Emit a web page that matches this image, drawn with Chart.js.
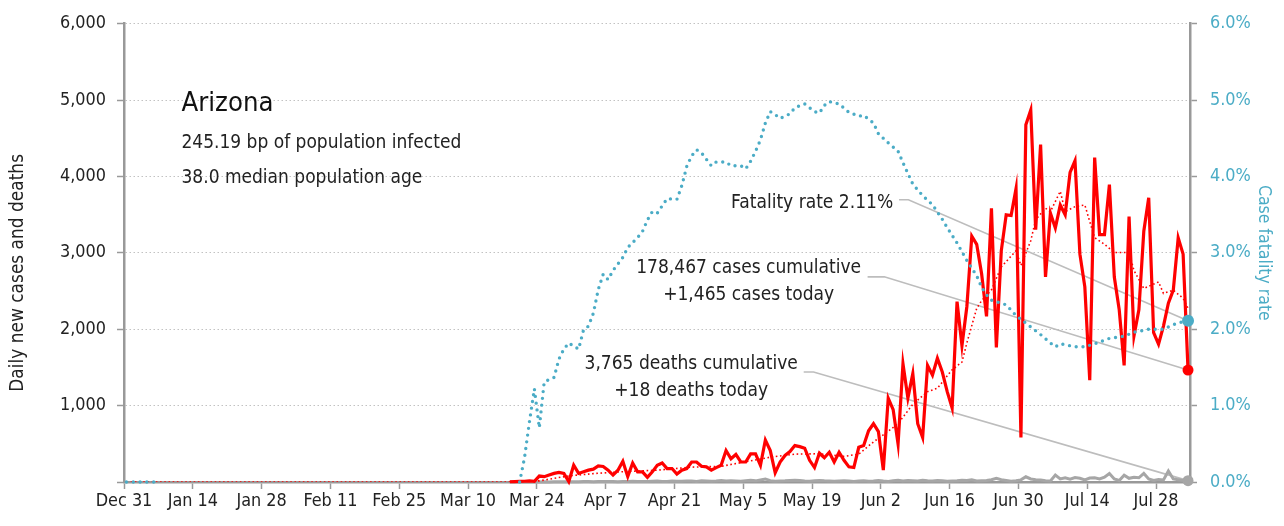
<!DOCTYPE html>
<html>
<head>
<meta charset="utf-8">
<script src="https://cdn.jsdelivr.net/npm/chart.js@4.4.1/dist/chart.umd.min.js"></script>
<style>
html, body { margin: 0; padding: 0; background: #ffffff; }
#wrap { width: 1284px; height: 526px; position: relative; }
</style>
</head>
<body>
<div id="wrap"><canvas id="chart"></canvas></div>
<script>
// ---- tick labels (every 14 days starting Dec 31) ----
const tickLabels = ["Dec 31","Jan 14","Jan 28","Feb 11","Feb 25","Mar 10","Mar 24","Apr 7","Apr 21","May 5","May 19","Jun 2","Jun 16","Jun 30","Jul 14","Jul 28"];

// ---- daily series, day index 0 = Dec 31; series start at day 78 (Mar 18) ----
const seriesStartDay = 78;
const dailyCases = [
  3,5,8,10,15,10,78,70,91,113,
  125,112,5,219,112,133,155,168,210,203,
  155,91,155,271,70,248,133,133,60,133,
  219,248,176,176,104,155,176,262,262,206,
  198,155,189,219,412,305,361,262,262,369,
  369,219,549,412,121,262,348,399,477,463,
  442,284,189,377,318,390,262,390,284,198,
  189,454,477,670,763,660,155,1098,948,498,
  1548,1098,1419,763,583,1527,1398,1620,1440,1183,
  969,2362,1784,2298,3219,3112,2726,2169,3584,1762,
  3026,3498,3489,3841,583,4676,4869,3305,4419,2684,
  3520,3327,3626,3498,4054,4205,2983,2555,1334,4247,
  3240,3240,3893,2684,2254,1527,3475,1913,2254,3283,
  3721,1955,1804,2041,2341,2512,3198,2983,1465
];
const dailyDeaths = [
  0,0,0,1,1,0,1,2,1,3,
  3,2,2,4,3,5,5,4,5,6,
  5,7,4,8,6,9,7,5,8,10,
  12,8,7,13,10,9,14,12,8,16,
  13,10,14,20,12,16,13,10,18,24,
  15,27,40,17,10,12,15,20,24,19,
  13,10,17,20,15,12,10,13,17,12,
  8,13,17,10,13,20,12,8,17,24,
  13,20,17,12,24,17,13,20,15,10,
  13,17,24,20,28,14,17,20,30,48,
  30,20,10,17,28,68,40,30,27,17,
  14,90,40,55,37,58,48,27,52,55,
  40,62,112,40,20,90,48,62,55,112,
  40,20,34,27,145,40,30,20,18
];

// ---- smoothed (dotted red) cases, read at selected days ----
const avgDays  = [0,78,80,84,90,95,101,108,115,121,126,131,136,141,146,149,152,155,157,160,163,165,168,170,171,173,174,176,178,181,182,184,185,187,188,190,191,193,195,197,199,201,204,205,207,210,211,213,215,216];
const avgCases = [0,0,5,15,80,110,135,155,195,205,265,325,365,370,335,365,525,665,765,1017,1183,1228,1470,1570,1821,2274,2374,2515,2816,3027,2836,3158,3433,3584,3540,3806,3540,3605,3626,3198,3112,3005,3005,2769,2534,2619,2469,2512,2405,2274];

// ---- case fatality rate (%), read at selected days ----
const cfrDays = [0,3,6,80,81,82,83,84,85,87,88,89,90,92,93,94,95,96,97,98,99,101,102,104,105,106,107,108,110,112,113,114,115,116,117,119,120,122,123,125,126,127,128,129,130,131,132,133,135,136,138,140,141,142,143,145,147,149,150,152,153,155,157,158,160,162,164,166,167,169,171,173,174,175,176,178,179,181,184,186,188,189,190,193,195,197,200,203,205,208,211,213,215,216];
const cfrPct  = [0,0,0,0,0.32,0.79,1.22,0.71,1.31,1.37,1.61,1.74,1.82,1.74,1.99,2.04,2.21,2.52,2.72,2.65,2.77,2.94,3.07,3.20,3.28,3.43,3.54,3.52,3.71,3.70,3.88,4.13,4.27,4.35,4.31,4.14,4.19,4.19,4.14,4.14,4.10,4.20,4.33,4.48,4.70,4.85,4.81,4.76,4.82,4.90,4.95,4.85,4.83,4.93,4.98,4.95,4.84,4.79,4.80,4.70,4.56,4.44,4.33,4.18,3.90,3.75,3.63,3.44,3.33,3.13,2.90,2.70,2.55,2.45,2.38,2.34,2.32,2.18,2.03,1.93,1.82,1.77,1.81,1.77,1.77,1.81,1.88,1.91,1.96,2.00,2.00,2.06,2.10,2.11];

// ---- annotation text ----
const titleText = "Arizona";
const subtitleLines = ["245.19 bp of population infected", "38.0 median population age"];
const fatalityNote = "Fatality rate 2.11%";
const casesNote = ["178,467 cases cumulative", "+1,465 cases today"];
const deathsNote = ["3,765 deaths cumulative", "+18 deaths today"];
const leftAxisTitle = "Daily new cases and deaths";
const rightAxisTitle = "Case fatality rate";

// ---- build library data from arrays ----
const casesData  = dailyCases.map((v, i) => ({ x: seriesStartDay + i, y: v }));
const deathsData = dailyDeaths.map((v, i) => ({ x: seriesStartDay + i, y: v }));
const avgData    = avgDays.map((d, i) => ({ x: d, y: avgCases[i] }));
const cfrData    = cfrDays.map((d, i) => ({ x: d, y: cfrPct[i] }));

// ---- choose an installed condensed-looking family and size text to the reference widths ----
const mctx = document.createElement('canvas').getContext('2d');
function hasFont(name) {
  const s = 'abcdefghijklmnopqrstuvwxyzABCDEFGHIJ0123456789';
  for (const base of ['monospace', 'serif']) {
    mctx.font = '40px ' + base; const a = mctx.measureText(s).width;
    mctx.font = "40px '" + name + "', " + base; const b = mctx.measureText(s).width;
    if (Math.abs(a - b) > 0.5) return true;
  }
  return false;
}
const FAMILY = ['Liberation Sans Narrow', 'DejaVu Sans Condensed', 'Roboto', 'Liberation Sans'].find(hasFont) || 'Arial';
const FONT = "'" + FAMILY + "', sans-serif";
function fitSize(text, width) { mctx.font = '100px ' + FONT; return 100 * width / mctx.measureText(text).width; }
const SZ_TICK  = fitSize('6,000', 46);
const SZ_NOTE  = fitSize(casesNote[0], 225);
const SZ_SUB   = fitSize(subtitleLines[0], 280);
const SZ_TITLE = fitSize(titleText, 92);
const SZ_LEFT  = fitSize(leftAxisTitle, 238);
const SZ_RIGHT = fitSize(rightAxisTitle, 136);

const RED = '#ff0000', BLUE = '#4bacc6', GRAY = '#a6a6a6', AXIS = '#999999', TEXT = '#222222';
Chart.defaults.font.family = FONT;

const lastOnly = (r) => (ctx) => ctx.dataIndex === ctx.dataset.data.length - 1 ? r : 0;

const notesPlugin = {
  id: 'notes',
  beforeDatasetsDraw(chart) {
    const { ctx } = chart;
    const xs = chart.scales.x, ys = chart.scales.y;
    const endOf = (i) => { const d = chart.getDatasetMeta(i).data; return d[d.length - 1]; };
    const leader = (x0, x1, yv, target) => {
      const y = ys.getPixelForValue(yv);
      ctx.beginPath();
      ctx.moveTo(xs.getPixelForValue(x0), y);
      ctx.lineTo(xs.getPixelForValue(x1), y);
      ctx.lineTo(target.x, target.y);
      ctx.stroke();
    };
    ctx.save();
    ctx.strokeStyle = '#bdbdbd';
    ctx.lineWidth = 1.6;
    leader(157.2, 159.1, 3695, endOf(3));
    leader(150.8, 154.2, 2686, endOf(0));
    leader(137.8, 139.8, 1440, endOf(2));
    ctx.restore();
  },
  afterDraw(chart) {
    const { ctx } = chart;
    const xs = chart.scales.x, ys = chart.scales.y;
    const px = (v) => xs.getPixelForValue(v), py = (v) => ys.getPixelForValue(v);
    ctx.save();
    ctx.fillStyle = '#111';
    ctx.textBaseline = 'alphabetic';
    ctx.textAlign = 'left';
    ctx.font = SZ_TITLE + "px " + FONT;
    ctx.fillText(titleText, px(11.2), py(4859));
    ctx.font = SZ_SUB + "px " + FONT;
    ctx.fillStyle = TEXT;
    ctx.fillText(subtitleLines[0], px(11.2), py(4370));
    ctx.fillText(subtitleLines[1], px(11.2), py(3920));
    ctx.font = SZ_NOTE + "px " + FONT;
    ctx.textAlign = 'right';
    ctx.fillText(fatalityNote, px(156.0), py(3590));
    ctx.textAlign = 'center';
    ctx.fillText(casesNote[0], px(126.6), py(2734));
    ctx.fillText(casesNote[1], px(126.6), py(2382));
    ctx.fillText(deathsNote[0], px(114.9), py(1482));
    ctx.fillText(deathsNote[1], px(114.9), py(1131));
    // axis titles
    ctx.textBaseline = 'middle';
    ctx.font = SZ_LEFT + "px " + FONT;
    ctx.save();
    ctx.translate(18.5, py(2738));
    ctx.rotate(-Math.PI / 2);
    ctx.fillText(leftAxisTitle, 0, 0);
    ctx.restore();
    ctx.save();
    ctx.fillStyle = BLUE;
    ctx.font = SZ_RIGHT + "px " + FONT;
    ctx.translate(1264, (chart.chartArea.top + chart.chartArea.bottom) / 2);
    ctx.rotate(Math.PI / 2);
    ctx.fillText(rightAxisTitle, 0, 0);
    ctx.restore();
    ctx.restore();
  }
};

new Chart(document.getElementById('chart'), {
  type: 'line',
  data: {
    datasets: [
      { label: 'Daily cases', data: casesData, yAxisID: 'y', borderColor: RED, borderWidth: 3.2,
        pointRadius: lastOnly(5.5), pointBackgroundColor: RED, pointBorderWidth: 0, tension: 0, order: 1, clip: false },
      { label: 'Cases trend', data: avgData, yAxisID: 'y', borderColor: RED, borderWidth: 1.6,
        borderDash: [1.6, 2.6], pointRadius: 0, spanGaps: true, tension: 0, order: 2 },
      { label: 'Daily deaths', data: deathsData, yAxisID: 'y', borderColor: GRAY, borderWidth: 3,
        pointRadius: lastOnly(5.5), pointBackgroundColor: GRAY, pointBorderWidth: 0, tension: 0, order: 3, clip: false },
      { label: 'Case fatality rate', data: cfrData, yAxisID: 'y1', borderColor: BLUE, borderWidth: 3.4,
        borderDash: [0, 6.8], borderCapStyle: 'round', pointRadius: lastOnly(6), pointBackgroundColor: BLUE,
        pointBorderWidth: 0, spanGaps: 12, tension: 0, order: 0, clip: false }
    ]
  },
  options: {
    responsive: true,
    maintainAspectRatio: false,
    animation: false,
    events: [],
    layout: { padding: { top: 15, left: 0, right: 0, bottom: 0 } },
    plugins: { legend: { display: false }, tooltip: { enabled: false } },
    scales: {
      x: {
        type: 'linear', min: -0.5, max: 216.4,
        afterBuildTicks: (s) => { s.ticks = tickLabels.map((_, k) => ({ value: -0.5 + 14 * k })); },
        afterFit: (s) => { s.height = 44; },
        ticks: { autoSkip: false, maxRotation: 0, padding: 2, color: TEXT,
                 font: { size: SZ_TICK }, callback: (v, i) => tickLabels[i] },
        grid: { drawOnChartArea: false, drawTicks: true, tickLength: 7, tickColor: AXIS, tickWidth: 1.5 },
        border: { color: AXIS, width: 2.5 }
      },
      y: {
        position: 'left', min: 0, max: 6000,
        afterFit: (s) => { s.width = 124; },
        ticks: { stepSize: 1000, padding: 11, color: TEXT, font: { size: SZ_TICK },
                 callback: (v) => v === 0 ? '' : v.toLocaleString('en-US') },
        grid: { color: '#c2c2c2', lineWidth: 1, drawTicks: true, tickLength: 7, tickColor: AXIS, tickWidth: 1.5 },
        border: { color: AXIS, width: 2.5, dash: [1.5, 2.5] }
      },
      y1: {
        position: 'right', min: 0, max: 6,
        afterFit: (s) => { s.width = 94; },
        ticks: { stepSize: 1, padding: 13, color: BLUE, font: { size: SZ_TICK },
                 callback: (v) => v.toFixed(1) + '%' },
        grid: { drawOnChartArea: false, drawTicks: true, tickLength: 7, tickColor: AXIS, tickWidth: 1.5 },
        border: { color: AXIS, width: 2.5 }
      }
    }
  },
  plugins: [notesPlugin]
});
</script>
</body>
</html>
